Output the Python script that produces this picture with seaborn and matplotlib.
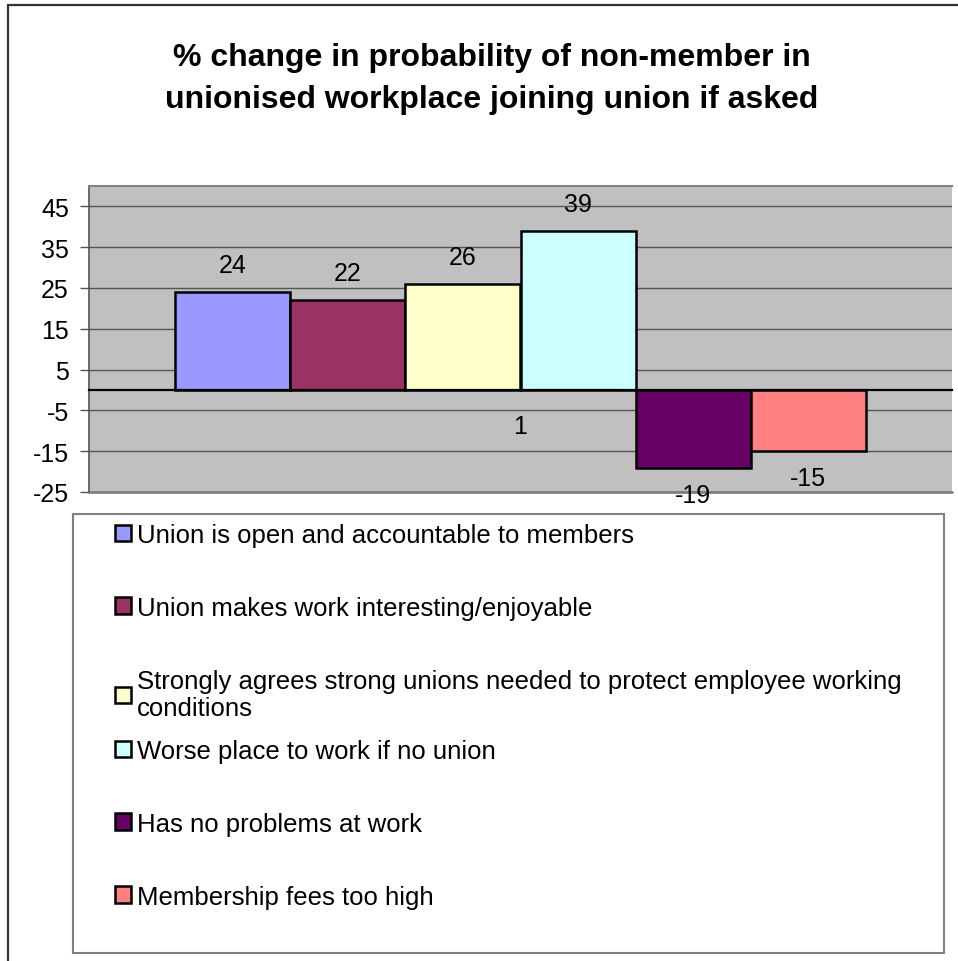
import matplotlib
matplotlib.use("Agg")
import matplotlib.pyplot as plt
from matplotlib.patches import Rectangle
import seaborn as sns
import pandas as pd

# ---- data ----
category = ["1"]
series = [
    "Union is open and accountable to members",
    "Union makes work interesting/enjoyable",
    "Strongly agrees strong unions needed to protect employee working\nconditions",
    "Worse place to work if no union",
    "Has no problems at work",
    "Membership fees too high",
]
values = [24, 22, 26, 39, -19, -15]
colors = ["#9999FF", "#993366", "#FFFFCC", "#CCFFFF", "#660066", "#FF8080"]
yticks = [45, 35, 25, 15, 5, -5, -15, -25]
title = "% change in probability of non-member in\nunionised workplace joining union if asked"

df = pd.DataFrame({"cat": category * len(series), "series": series, "value": values})

sns.set_theme(style="white")
plt.rcParams["font.family"] = ["Liberation Sans", "DejaVu Sans"]
plt.rcParams["text.color"] = "black"
plt.rcParams["axes.labelcolor"] = "black"
plt.rcParams["xtick.color"] = "black"
plt.rcParams["ytick.color"] = "black"

W, H = 958, 962
fig = plt.figure(figsize=(W / 100, H / 100), dpi=100)
fig.patch.set_facecolor("white")

def fx(px):
    return px / W

def fy(py):
    return 1 - py / H

# outer chart frame (extends beyond right/bottom edge)
fig.patches.append(Rectangle((fx(8), -0.05), 1.2, fy(6) + 0.05, transform=fig.transFigure,
                             facecolor="none", edgecolor="#333333", lw=1.6, zorder=0))

left, right, top, bottom = 89, 952, 187, 493
ax = fig.add_axes([fx(left), fy(bottom), fx(right) - fx(left), fy(top) - fy(bottom)])
ax.set_facecolor("#C0C0C0")

sns.barplot(data=df, x="cat", y="value", hue="series", palette=colors, hue_order=series,
            width=0.8, edgecolor="black", linewidth=1.8, saturation=1, ax=ax, zorder=3)

ax.set_ylim(-25, 50)
ax.set_xlim(-0.5, 0.5)
ax.set_yticks(yticks)
ax.set_yticklabels([str(t) for t in yticks])
ax.set_xlabel("")
ax.set_ylabel("")
ax.yaxis.grid(True, color="#555555", lw=1.0, zorder=0)
ax.set_axisbelow(True)

ax.spines["bottom"].set_position(("data", 0))
ax.spines["bottom"].set_color("black")
ax.spines["bottom"].set_linewidth(1.6)
ax.spines["bottom"].set_zorder(4)
ax.spines["left"].set_color("#555555")
ax.spines["left"].set_linewidth(1.2)
ax.spines["top"].set_color("#808080")
ax.spines["top"].set_linewidth(1.5)
ax.spines["right"].set_visible(False)

ax.tick_params(axis="y", length=6.5, width=1.0, color="#555555", labelcolor="black",
               pad=8, labelsize=18, left=True)
ax.tick_params(axis="x", length=0, pad=17, labelsize=18, labelcolor="black")

# bottom border of plot area at -25
ax.axhline(-25, color="#808080", lw=2.0, zorder=1, clip_on=False)

# data labels
for cont, v in zip(ax.containers, values):
    ax.bar_label(cont, labels=[str(v)], padding=11, fontsize=18, color="black")

# legend (box + two stacked legend blocks laid on an even grid)
handles, labels = ax.get_legend_handles_labels()
ax.get_legend().remove()
fig.patches.append(Rectangle((fx(73), fy(954)), fx(944) - fx(73), fy(515) - fy(954),
                             transform=fig.transFigure, facecolor="white",
                             edgecolor="#808080", lw=1.5, zorder=1))
leg_kw = dict(loc="upper left", frameon=False, fontsize=18.5, handlelength=0.62,
              handleheight=0.62, handletextpad=0.25, labelspacing=1.9,
              borderpad=0, borderaxespad=0)
leg1 = fig.legend(handles[:3], labels[:3], bbox_to_anchor=(fx(115), fy(524)), **leg_kw)
leg2 = fig.legend(handles[3:], labels[3:], bbox_to_anchor=(fx(115), fy(740)), **leg_kw)
for lg in (leg1, leg2):
    lg.set_zorder(5)

fig.text(fx(492), fy(79), title, ha="center", va="center", fontsize=23, fontweight="bold",
         linespacing=1.53, color="black")

fig.savefig("out.png", dpi=100)
